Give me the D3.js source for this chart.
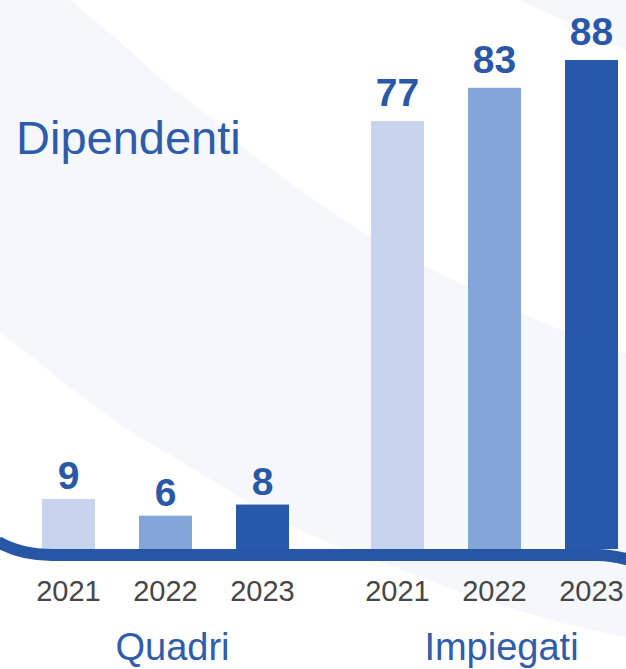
<!DOCTYPE html>
<html>
<head>
<meta charset="utf-8">
<script src="https://cdn.jsdelivr.net/npm/d3@7"></script>
<style>
  html, body { margin: 0; padding: 0; background: #ffffff; }
  svg { display: block; }
</style>
</head>
<body>
<svg id="chart" width="626" height="669"></svg>
<script>
// Headcount by category and year
const groups = ["Quadri", "Impiegati"];
const years = ["2021", "2022", "2023"];
const quadri = [9, 6, 8];
const impiegati = [77, 83, 88];
const title = "Dipendenti";

const seriesByGroup = { Quadri: quadri, Impiegati: impiegati };
const yearColors = ["#c8d4ed", "#83a5d7", "#2858a9"];
const labelGap = { Quadri: 10, Impiegati: 15 };

const W = 626, H = 669;
const baseY = 549;
const svg = d3.select("#chart");

// Decorative background swooshes
const bg = svg.append("g");
const smooth = d3.line().curve(d3.curveCatmullRom.alpha(0.5));
const edgeUpper = [[70,0],[110,33],[143,63],[177,92],[210,117],[243,147],[277,173],[310,197],[360,230],[424,265],[468,287],[522,313],[566,332],[626,353]];
const edgeLower = [[0,333],[33,358],[67,385],[100,410],[133,433],[167,453],[200,473],[233,493],[267,513],[300,530],[330,543],[367,557],[420,577],[470,595],[520,611],[570,625],[626,637]];
const band = "M0,0L" + smooth(edgeUpper).slice(1) +
  "L" + smooth(edgeLower.slice().reverse()).slice(1) + "Z";
bg.append("path").attr("d", band).attr("fill", "#f5f7fc");
const corner = [[518,0],[570,23],[626,50]];
bg.append("path")
  .attr("d", smooth(corner) + "L626,0Z")
  .attr("fill", "#f5f7fc");

// Scales
const x0 = d3.scaleBand().domain(groups).range([20, 640]).paddingInner(38 / 329);
const x1 = d3.scaleBand().domain(years).range([0, x0.bandwidth()])
  .paddingInner(0.4536).paddingOuter(0.2268);
const allValues = quadri.concat(impiegati);
const y = d3.scaleLinear().domain([0, d3.max(allValues)]).range([baseY, 60]);
const color = d3.scaleOrdinal().domain(years).range(yearColors);

const rows = [];
groups.forEach(g => years.forEach((yr, i) => rows.push({ group: g, year: yr, value: seriesByGroup[g][i] })));

// Bars
svg.append("g").selectAll("rect").data(rows).join("rect")
  .attr("x", d => x0(d.group) + x1(d.year))
  .attr("y", d => y(d.value))
  .attr("width", x1.bandwidth())
  .attr("height", d => y(0) - y(d.value))
  .attr("fill", d => color(d.year));

// Value labels
svg.append("g").selectAll("text").data(rows).join("text")
  .attr("x", d => x0(d.group) + x1(d.year) + x1.bandwidth() / 2)
  .attr("y", d => y(d.value) - labelGap[d.group])
  .attr("text-anchor", "middle")
  .attr("font-family", "'Liberation Sans', Arial, sans-serif")
  .attr("font-weight", "bold")
  .attr("font-size", 39)
  .attr("fill", "#2a58a8")
  .text(d => d.value);

// Curved baseline
svg.append("path")
  .attr("d", "M-2,542 C14,551 30,555 52,555 L598,555 C610,555 618,557 630,560")
  .attr("fill", "none")
  .attr("stroke", "#2856a7")
  .attr("stroke-width", 12);

// Year labels
svg.append("g").selectAll("text").data(rows).join("text")
  .attr("x", d => x0(d.group) + x1(d.year) + x1.bandwidth() / 2)
  .attr("y", 601)
  .attr("text-anchor", "middle")
  .attr("font-family", "'Liberation Sans', Arial, sans-serif")
  .attr("font-size", 29)
  .attr("fill", "#464646")
  .text(d => d.year);

// Group labels
svg.append("g").selectAll("text").data(groups).join("text")
  .attr("x", g => x0(g) + x0.bandwidth() / 2 + 7)
  .attr("y", 660)
  .attr("text-anchor", "middle")
  .attr("font-family", "'Liberation Sans', Arial, sans-serif")
  .attr("font-size", 38)
  .attr("fill", "#2f5dab")
  .text(g => g);

// Title
svg.append("text")
  .attr("x", 16)
  .attr("y", 154)
  .attr("font-family", "'Liberation Sans', Arial, sans-serif")
  .attr("font-size", 47)
  .attr("fill", "#2d5cab")
  .text(title);
</script>
</body>
</html>
